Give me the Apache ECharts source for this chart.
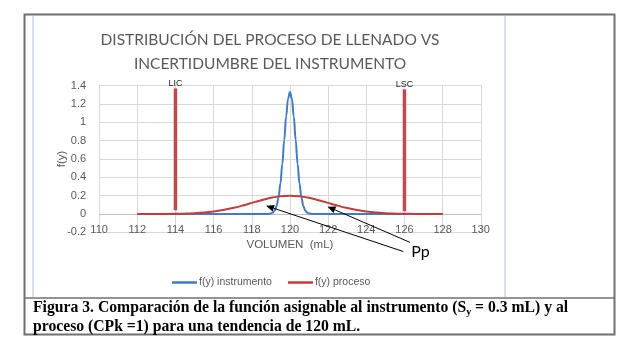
<!DOCTYPE html>
<html><head><meta charset="utf-8">
<script src="https://cdn.jsdelivr.net/npm/echarts@6/dist/echarts.min.js"></script>
<style>html,body{margin:0;padding:0;background:#fff}#c{width:640px;height:357px}</style>
</head><body><div id="c"></div>
<script>
// ---- data ----
const instX = [112, 114, 116, 118, 118.6, 118.8, 119, 119.1, 119.2, 119.3, 119.4, 119.5, 119.6, 119.7, 119.8, 119.9, 120, 120.1, 120.2, 120.3, 120.4, 120.5, 120.6, 120.7, 120.8, 120.9, 121, 121.2, 121.4, 122, 124, 126, 128];
const instY = [0, 0, 0, 0, 0, 0.0005, 0.005, 0.015, 0.038, 0.087, 0.18, 0.332, 0.547, 0.807, 1.065, 1.258, 1.33, 1.258, 1.065, 0.807, 0.547, 0.332, 0.18, 0.087, 0.038, 0.015, 0.005, 0.0005, 0, 0, 0, 0, 0];
const procX = [112, 112.5, 113, 113.5, 114, 114.5, 115, 115.5, 116, 116.5, 117, 117.5, 118, 118.5, 119, 119.5, 120, 120.5, 121, 121.5, 122, 122.5, 123, 123.5, 124, 124.5, 125, 125.5, 126, 126.5, 127, 127.5, 128];
const procY = [0.0001, 0.0002, 0.0004, 0.001, 0.0022, 0.0045, 0.0088, 0.0159, 0.027, 0.0432, 0.0648, 0.0913, 0.121, 0.1506, 0.176, 0.1933, 0.1995, 0.1933, 0.176, 0.1506, 0.121, 0.0913, 0.0648, 0.0432, 0.027, 0.0159, 0.0088, 0.0045, 0.0022, 0.001, 0.0004, 0.0002, 0.0001];
const limNames = ['LIC', 'LSC'];
const limX = [114, 126];
const limLow = [0.04, 0.03];
const limHigh = [1.37, 1.36];
const seriesNames = ['f(y) instrumento', 'f(y) proceso'];
const titleLines = ['DISTRIBUCIÓN DEL PROCESO DE LLENADO VS', 'INCERTIDUMBRE DEL INSTRUMENTO'];
const xName = 'VOLUMEN  (mL)';
const yName = 'f(y)';
const xMin = 110, xMax = 130, xStep = 2;
const yMin = -0.2, yMax = 1.4, yStep = 0.2;
// annotation arrows (data units): tail -> head
const arrowTail = [[126.29, -0.31], [125.94, -0.41]];
const arrowHead = [[121.97, 0.08], [118.75, 0.09]];
const noteText = 'Pp';
const notePos = [126.84, -0.415];
const captionLine1a = 'Figura 3. Comparación de la función asignable al instrumento (S';
const captionSub = 'y';
const captionLine1b = ' = 0.3 mL) y al';
const captionLine2 = 'proceso (CPk =1) para una tendencia de 120 mL.';

const BLUE = '#3F7BC8', RED = '#C53B3B', BAR = '#C4484A', GRAY = '#595959';
const CLEAR = 'rgba(0,0,0,0)';
const zip = (xs, ys) => xs.map((x, i) => [x, ys[i]]);

const limSeries = limX.map((x, i) => ({
  type: 'line', name: limNames[i], silent: true, animation: false, clip: false,
  data: [[x, limLow[i]], [x, limHigh[i]]],
  showSymbol: false, itemStyle: {color: BAR},
  lineStyle: {color: BAR, width: 3.5}, z: 1,
  markPoint: {silent: true, symbol: 'circle', symbolSize: 1, itemStyle: {color: CLEAR},
    label: {show: true, position: 'top', distance: 0, formatter: limNames[i], fontSize: 9, color: '#222', fontFamily: 'Liberation Sans'},
    data: [{coord: [x, limHigh[i]]}]}
}));

const staticGraphics = [
  {type: 'rect', shape: {x: 24.5, y: 14.5, width: 590, height: 320}, style: {fill: 'none', stroke: '#707070', lineWidth: 2}, z: -1},
  {type: 'line', shape: {x1: 24.5, y1: 298, x2: 614.5, y2: 298}, style: {stroke: '#707070', lineWidth: 1.5}},
  {type: 'line', shape: {x1: 33, y1: 16, x2: 33, y2: 297}, style: {stroke: '#C9D8EC', lineWidth: 1.5}},
  {type: 'line', shape: {x1: 505, y1: 16, x2: 505, y2: 297}, style: {stroke: '#C9D8EC', lineWidth: 1.5}},
  {type: 'text', x: 33, y: 298.5, style: {
    text: '{b|' + captionLine1a + '}{s|' + captionSub + '}{b|' + captionLine1b + '}\n{b|' + captionLine2 + '}',
    rich: {
      b: {fontFamily: 'Liberation Serif', fontWeight: 'bold', fontSize: 15.7, lineHeight: 19, fill: '#000'},
      s: {fontFamily: 'Liberation Serif', fontWeight: 'bold', fontSize: 10, lineHeight: 10, verticalAlign: 'bottom', fill: '#000'}
    }}}
];

const chart = echarts.init(document.getElementById('c'), null, {renderer: 'canvas'});
chart.setOption({
  animation: false,
  backgroundColor: '#fff',
  title: {
    text: titleLines.join('\n'), left: 265, top: 23, textAlign: 'center',
    textStyle: {fontFamily: 'Lato', fontWeight: 'normal', fontSize: 15.5, color: GRAY, lineHeight: 24}
  },
  grid: {left: 99.1, right: 159.2, top: 85.7, bottom: 124.7},
  legend: {
    data: seriesNames.map(n => ({name: n, icon: 'rect'})),
    left: 167, top: 272, itemWidth: 25, itemHeight: 2.5, itemGap: 16,
    textStyle: {fontFamily: 'Liberation Sans', fontSize: 10.5, color: GRAY, padding: [0, 0, 0, -3]}
  },
  xAxis: {
    type: 'value', min: xMin, max: xMax, interval: xStep,
    name: xName, nameLocation: 'middle', nameGap: 7,
    nameTextStyle: {fontFamily: 'Liberation Sans', fontSize: 11.5, color: GRAY, verticalAlign: 'top'},
    axisLine: {show: false}, axisTick: {show: false},
    axisLabel: {margin: -8, fontFamily: 'Liberation Sans', fontSize: 11, color: GRAY},
    splitLine: {show: true, lineStyle: {color: '#D9D9D9', width: 1}}
  },
  yAxis: {
    type: 'value', min: yMin, max: yMax, interval: yStep,
    name: yName, nameLocation: 'middle', nameGap: 31, nameMoveOverlap: false,
    nameTextStyle: {fontFamily: 'Liberation Sans', fontSize: 11.5, color: GRAY},
    axisLine: {show: false}, axisTick: {show: false},
    axisLabel: {margin: 13, fontFamily: 'Liberation Sans', fontSize: 11, color: GRAY,
      formatter: v => String(Math.round(v * 10) / 10)},
    splitLine: {show: true, lineStyle: {color: '#D9D9D9', width: 1}}
  },
  series: [
    {type: 'line', name: seriesNames[0], data: zip(instX, instY), smooth: 0.4, smoothMonotone: 'x',
     showSymbol: false, lineStyle: {color: BLUE, width: 2}, itemStyle: {color: BLUE}, z: 3,
     markLine: {silent: true, symbol: 'none', label: {show: false}, lineStyle: {color: '#BFBFBF', width: 1, type: 'solid'}, data: [{yAxis: 0}], z: 1}},
    {type: 'line', name: seriesNames[1], data: zip(procX, procY), smooth: 0.25,
     showSymbol: false, lineStyle: {color: RED, width: 2}, itemStyle: {color: RED}, z: 4},
    ...limSeries
  ],
  graphic: staticGraphics
});

// annotations placed through the chart's own scales
const toPx = c => chart.convertToPixel({gridIndex: 0}, c);
const notes = [];
arrowTail.forEach((t, i) => {
  const a = toPx(t), b = toPx(arrowHead[i]);
  const dx = b[0] - a[0], dy = b[1] - a[1], L = Math.hypot(dx, dy);
  const ux = dx / L, uy = dy / L, hl = 8, hw = 3.5;
  const bx = b[0] - ux * hl, by = b[1] - uy * hl;
  notes.push({type: 'line', shape: {x1: a[0], y1: a[1], x2: bx, y2: by}, style: {stroke: '#000', lineWidth: 1}, z: 10});
  notes.push({type: 'polygon', shape: {points: [b, [bx - uy * hw, by + ux * hw], [bx + uy * hw, by - ux * hw]]}, style: {fill: '#000'}, z: 10});
});
const np = toPx(notePos);
notes.push({type: 'text', x: np[0], y: np[1], style: {text: noteText, fontFamily: 'Lato', fontSize: 16, fill: '#000', align: 'center', verticalAlign: 'middle'}, z: 10});
chart.setOption({graphic: staticGraphics.concat(notes)});
</script></body></html>
